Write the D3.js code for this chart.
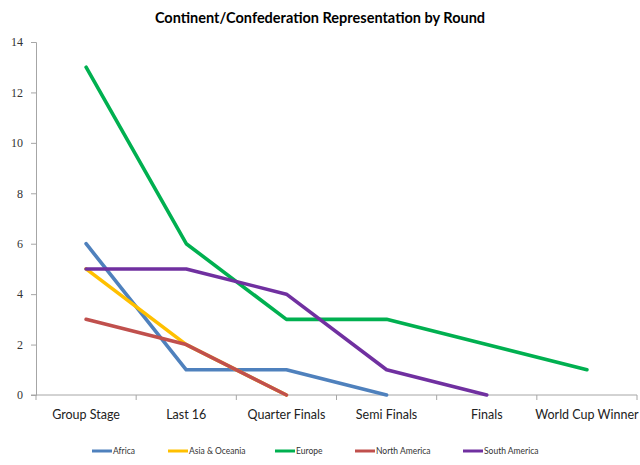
<!DOCTYPE html>
<html><head><meta charset="utf-8">
<script src="https://cdn.jsdelivr.net/npm/d3@7"></script>
<style>body{margin:0;background:#fff}</style>
</head><body>
<svg id="c" width="640" height="465"></svg>
<script>
const categories = ["Group Stage","Last 16","Quarter Finals","Semi Finals","Finals","World Cup Winner"];
const seriesNames = ["Africa","Asia & Oceania","Europe","North America","South America"];
const africa = [6,1,1,0];
const asiaOceania = [5,2,0];
const europe = [13,6,3,3,2,1];
const northAmerica = [3,2,0];
const southAmerica = [5,5,4,1,0];
const yTicks = [0,2,4,6,8,10,12,14];
const colors = ["#4F81BD","#FFC000","#00B050","#C0504D","#7030A0"];
const seriesValues = [africa, asiaOceania, europe, northAmerica, southAmerica];

const svg = d3.select("#c");
const m = {l:36, r:637, t:42, b:395};
const x = d3.scaleBand().domain(categories).range([m.l, m.r]);
const y = d3.scaleLinear().domain([0,14]).range([m.b, m.t]);

svg.append("text").attr("x",320).attr("y",23).attr("text-anchor","middle")
  .attr("font-family","Lato, 'Open Sans', sans-serif").attr("font-weight","bold").attr("font-size",14.5)
  .attr("fill","#000").text("Continent/Confederation Representation by Round");

// y axis
const ya = svg.append("g").attr("transform",`translate(${m.l},0)`)
  .call(d3.axisLeft(y).tickValues(yTicks).tickSize(5).tickPadding(8));
ya.select(".domain").attr("stroke","#A6A6A6");
ya.selectAll(".tick line").attr("stroke","#A6A6A6");
ya.selectAll("text").attr("font-family","'Liberation Serif', serif").attr("font-size",12).attr("fill","#333");

// x axis
const xa = svg.append("g").attr("transform",`translate(0,${m.b})`);
xa.append("line").attr("x1",m.l-5).attr("x2",m.r).attr("y1",0).attr("y2",0).attr("stroke","#A6A6A6");
const bounds = categories.map(c=>x(c)).concat([m.r]);
xa.selectAll("line.t").data(bounds).enter().append("line").attr("class","t")
  .attr("x1",d=>d).attr("x2",d=>d).attr("y1",0).attr("y2",5).attr("stroke","#A6A6A6");
xa.selectAll("text").data(categories).enter().append("text")
  .attr("x",d=>x(d)+x.bandwidth()/2).attr("y",24).attr("text-anchor","middle")
  .attr("font-family","Lato, 'Open Sans', sans-serif").attr("font-size",12.5).attr("fill","#222").text(d=>d);

// lines
const line = d3.line().x((d,i)=>x(categories[i])+x.bandwidth()/2).y(d=>y(d));
seriesValues.forEach((vals,k)=>{
  svg.append("path").datum(vals).attr("d",line).attr("fill","none")
    .attr("stroke",colors[k]).attr("stroke-width",3.6).attr("stroke-linejoin","round").attr("stroke-linecap","round");
});

// legend
const legX = [92,168,275,355,463];
const lg = svg.append("g");
seriesNames.forEach((n,k)=>{
  lg.append("line").attr("x1",legX[k]).attr("x2",legX[k]+20).attr("y1",451).attr("y2",451)
    .attr("stroke",colors[k]).attr("stroke-width",3);
  lg.append("text").attr("x",legX[k]+21).attr("y",454).attr("font-family","Lato, 'Open Sans', sans-serif")
    .attr("font-size",8.5).attr("fill","#333").text(n);
});
</script>
</body></html>
